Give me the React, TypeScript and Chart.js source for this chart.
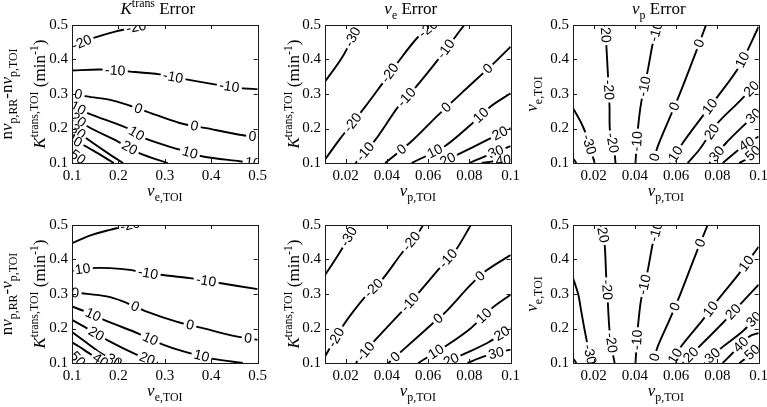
import { useEffect, useRef } from 'react';
import { Chart, registerables } from 'chart.js';
Chart.register(...registerables);

type Pt = [number, number];
type Contour = { level: number; line: Pt[]; labels: Pt[] };
type Seg = { t: string; it?: boolean; s?: 'sub' | 'sup' };

// ---------- tick values ----------
const veTicks = [0.1, 0.2, 0.3, 0.4, 0.5];
const vpTicks = [0.02, 0.04, 0.06, 0.08, 0.1];
const yTicks = [0.1, 0.2, 0.3, 0.4, 0.5];

// ---------- K^trans error, top row (x: ve,TOI ; y: Ktrans,TOI) ----------
const kTransTop: Contour[] = [
  { level: -20, line: [[0.1, 0.437], [0.143, 0.461], [0.193, 0.481], [0.235, 0.493], [0.265, 0.5]], labels: [[0.121, 0.449], [0.239, 0.49]] },
  { level: -10, line: [[0.1, 0.368], [0.161, 0.371], [0.225, 0.365], [0.289, 0.357], [0.343, 0.343], [0.411, 0.327], [0.464, 0.317], [0.5, 0.314]], labels: [[0.193, 0.368], [0.318, 0.35], [0.439, 0.321]] },
  { level: 0, line: [[0.1, 0.303], [0.132, 0.293], [0.182, 0.283], [0.225, 0.266], [0.261, 0.249], [0.332, 0.216], [0.389, 0.201], [0.461, 0.182], [0.5, 0.175]], labels: [[0.114, 0.3], [0.243, 0.258], [0.364, 0.208], [0.489, 0.177]] },
  { level: 10, line: [[0.1, 0.268], [0.135, 0.244], [0.221, 0.2], [0.256, 0.172], [0.328, 0.14], [0.382, 0.119], [0.461, 0.105], [0.49, 0.1]], labels: [[0.113, 0.259], [0.239, 0.186], [0.354, 0.129], [0.49, 0.102]] },
  { level: 20, line: [[0.1, 0.238], [0.135, 0.205], [0.199, 0.162], [0.246, 0.128], [0.306, 0.1]], labels: [[0.113, 0.224], [0.224, 0.143]] },
  { level: 30, line: [[0.1, 0.205], [0.131, 0.172], [0.178, 0.128], [0.21, 0.1]], labels: [[0.112, 0.19]] },
  { level: 40, line: [[0.1, 0.17], [0.146, 0.136], [0.19, 0.1]], labels: [[0.104, 0.163]] },
  { level: 50, line: [[0.1, 0.13], [0.115, 0.115], [0.13, 0.1]], labels: [[0.11, 0.112]] },
];

// ---------- K^trans error, bottom row ----------
const kTransBottom: Contour[] = [
  { level: -20, line: [[0.1, 0.447], [0.14, 0.47], [0.182, 0.486], [0.225, 0.5]], labels: [[0.229, 0.494]] },
  { level: -10, line: [[0.1, 0.368], [0.139, 0.375], [0.182, 0.375], [0.225, 0.37], [0.264, 0.36], [0.296, 0.355], [0.354, 0.346], [0.421, 0.331], [0.5, 0.314]], labels: [[0.118, 0.37], [0.264, 0.361], [0.389, 0.337]] },
  { level: 0, line: [[0.1, 0.304], [0.121, 0.302], [0.175, 0.293], [0.211, 0.278], [0.261, 0.249], [0.325, 0.22], [0.382, 0.201], [0.454, 0.177], [0.5, 0.167]], labels: [[0.107, 0.303], [0.236, 0.264], [0.354, 0.208], [0.479, 0.168]] },
  { level: 10, line: [[0.1, 0.264], [0.145, 0.24], [0.178, 0.22], [0.242, 0.186], [0.299, 0.152], [0.342, 0.133], [0.404, 0.112], [0.468, 0.1]], labels: [[0.145, 0.238], [0.268, 0.168], [0.379, 0.119]] },
  { level: 20, line: [[0.1, 0.225], [0.125, 0.206], [0.178, 0.165], [0.238, 0.125], [0.285, 0.1]], labels: [[0.152, 0.184], [0.262, 0.112]] },
  { level: 30, line: [[0.1, 0.19], [0.125, 0.165], [0.155, 0.135], [0.18, 0.115], [0.2, 0.1]], labels: [[0.19, 0.105]] },
  { level: 40, line: [[0.1, 0.16], [0.115, 0.148], [0.135, 0.13], [0.155, 0.113], [0.17, 0.1]], labels: [[0.16, 0.105]] },
  { level: 50, line: [[0.1, 0.125], [0.11, 0.115], [0.12, 0.1]], labels: [[0.108, 0.106]] },
];

// ---------- ve error, top row (x: vp,TOI ; y: Ktrans,TOI) ----------
const veTop: Contour[] = [
  { level: -30, line: [[0.01, 0.336], [0.0185, 0.408], [0.0264, 0.5]], labels: [[0.0235, 0.465]] },
  { level: -20, line: [[0.01, 0.11], [0.0169, 0.167], [0.0296, 0.264], [0.0368, 0.322], [0.0456, 0.394], [0.0552, 0.466], [0.0623, 0.5]], labels: [[0.0236, 0.216], [0.0416, 0.36], [0.06, 0.49]] },
  { level: -10, line: [[0.0248, 0.1], [0.0344, 0.167], [0.0456, 0.264], [0.0536, 0.317], [0.0647, 0.399], [0.0775, 0.5]], labels: [[0.0296, 0.132], [0.0496, 0.29], [0.0687, 0.43]] },
  { level: 0, line: [[0.0392, 0.1], [0.052, 0.163], [0.0647, 0.238], [0.0775, 0.31], [0.0927, 0.394], [0.1, 0.437]], labels: [[0.0472, 0.14], [0.0687, 0.262], [0.0887, 0.375]] },
  { level: 10, line: [[0.052, 0.1], [0.0679, 0.148], [0.0807, 0.211], [0.0903, 0.264], [0.1, 0.302]], labels: [[0.0631, 0.136], [0.0855, 0.239]] },
  { level: 20, line: [[0.066, 0.1], [0.0743, 0.124], [0.0887, 0.167], [0.1, 0.201]], labels: [[0.0694, 0.112], [0.0945, 0.19]] },
  { level: 30, line: [[0.0799, 0.1], [0.087, 0.118], [0.1, 0.149]], labels: [[0.0927, 0.135]] },
  { level: 40, line: [[0.086, 0.1], [0.092, 0.105], [0.1, 0.11]], labels: [[0.0965, 0.108]] },
];

// ---------- ve error, bottom row ----------
const veBottom: Contour[] = [
  { level: -30, line: [[0.01, 0.355], [0.0169, 0.418], [0.0248, 0.5]], labels: [[0.0216, 0.466]] },
  { level: -20, line: [[0.01, 0.119], [0.0185, 0.206], [0.0296, 0.293], [0.0376, 0.341], [0.0472, 0.418], [0.0551, 0.476], [0.0576, 0.5]], labels: [[0.0145, 0.177], [0.0336, 0.317], [0.052, 0.452]] },
  { level: -10, line: [[0.025, 0.1], [0.0344, 0.167], [0.0472, 0.249], [0.0552, 0.302], [0.0663, 0.38], [0.0735, 0.428], [0.0807, 0.5]], labels: [[0.0296, 0.134], [0.0512, 0.276], [0.0695, 0.404]] },
  { level: 0, line: [[0.0408, 0.1], [0.0488, 0.143], [0.0615, 0.211], [0.0687, 0.249], [0.0807, 0.327], [0.0887, 0.37], [0.1, 0.413]], labels: [[0.044, 0.119], [0.0647, 0.23], [0.0855, 0.35]] },
  { level: 10, line: [[0.0552, 0.1], [0.0695, 0.153], [0.0807, 0.201], [0.091, 0.259], [0.1, 0.298]], labels: [[0.064, 0.131], [0.0871, 0.237]] },
  { level: 20, line: [[0.0679, 0.1], [0.0767, 0.124], [0.0887, 0.158], [0.1, 0.201]], labels: [[0.0711, 0.11], [0.0958, 0.185]] },
  { level: 30, line: [[0.0791, 0.1], [0.0871, 0.119], [0.1, 0.139]], labels: [[0.093, 0.127]] },
];

// ---------- vp error, top row (x: vp,TOI ; y: ve,TOI) ----------
const vpTop: Contour[] = [
  { level: -40, line: [[0.01, 0.114], [0.0116, 0.1]], labels: [] },
  { level: -30, line: [[0.01, 0.259], [0.014, 0.216], [0.0165, 0.18], [0.0195, 0.12], [0.0205, 0.1]], labels: [[0.0173, 0.153]] },
  { level: -20, line: [[0.0255, 0.5], [0.0261, 0.447], [0.0269, 0.36], [0.0277, 0.264], [0.0279, 0.196], [0.0302, 0.124], [0.0306, 0.1]], labels: [[0.0258, 0.478], [0.0273, 0.312], [0.0288, 0.158]] },
  { level: -10, line: [[0.0511, 0.5], [0.0487, 0.447], [0.0463, 0.37], [0.043, 0.273], [0.0415, 0.201], [0.0406, 0.129], [0.0403, 0.1]], labels: [[0.0503, 0.481], [0.0447, 0.322], [0.0412, 0.163]] },
  { level: 0, line: [[0.0487, 0.1], [0.0511, 0.148], [0.0568, 0.23], [0.0616, 0.298], [0.0697, 0.423], [0.0745, 0.5]], labels: [[0.0495, 0.117], [0.0592, 0.264], [0.0713, 0.447]] },
  { level: 10, line: [[0.057, 0.1], [0.0632, 0.158], [0.0721, 0.23], [0.0802, 0.293], [0.0906, 0.38], [0.1, 0.495]], labels: [[0.0598, 0.126], [0.0761, 0.265], [0.0923, 0.399]] },
  { level: 20, line: [[0.0656, 0.1], [0.0713, 0.139], [0.0802, 0.216], [0.0906, 0.278], [0.1, 0.336]], labels: [[0.0775, 0.19], [0.0963, 0.317]] },
  { level: 30, line: [[0.0761, 0.1], [0.0842, 0.158], [0.0923, 0.206], [0.1, 0.249]], labels: [[0.0794, 0.128], [0.0975, 0.237]] },
  { level: 40, line: [[0.0826, 0.1], [0.0923, 0.148], [0.1, 0.177]], labels: [[0.094, 0.157]] },
  { level: 50, line: [[0.0906, 0.1], [0.0947, 0.114], [0.1, 0.143]], labels: [[0.0971, 0.13]] },
];

// ---------- vp error, bottom row ----------
const vpBottom: Contour[] = [
  { level: -40, line: [[0.01, 0.114], [0.0116, 0.1]], labels: [] },
  { level: -30, line: [[0.01, 0.346], [0.0125, 0.3], [0.014, 0.25], [0.0155, 0.2], [0.0175, 0.14], [0.019, 0.1]], labels: [[0.0181, 0.125]] },
  { level: -20, line: [[0.0237, 0.5], [0.0253, 0.447], [0.0261, 0.351], [0.0269, 0.273], [0.0277, 0.196], [0.0294, 0.124], [0.0302, 0.1]], labels: [[0.0243, 0.478], [0.0265, 0.312], [0.0283, 0.158]] },
  { level: -10, line: [[0.0511, 0.5], [0.0487, 0.447], [0.0463, 0.37], [0.043, 0.283], [0.0415, 0.206], [0.0406, 0.129], [0.0403, 0.1]], labels: [[0.0503, 0.481], [0.0447, 0.327], [0.0412, 0.167]] },
  { level: 0, line: [[0.0487, 0.1], [0.0511, 0.148], [0.0568, 0.225], [0.0616, 0.293], [0.0697, 0.418], [0.0753, 0.5]], labels: [[0.0495, 0.117], [0.0592, 0.264], [0.0721, 0.447]] },
  { level: 10, line: [[0.0576, 0.1], [0.0624, 0.148], [0.0729, 0.225], [0.0802, 0.283], [0.0906, 0.36], [0.1, 0.437]], labels: [[0.0595, 0.12], [0.0761, 0.259], [0.0939, 0.389]] },
  { level: 20, line: [[0.0632, 0.1], [0.0713, 0.148], [0.0826, 0.216], [0.0923, 0.278], [0.1, 0.327]], labels: [[0.0673, 0.123], [0.0874, 0.25]] },
  { level: 30, line: [[0.0737, 0.1], [0.0818, 0.143], [0.0923, 0.192], [0.1, 0.24]], labels: [[0.0775, 0.122], [0.0975, 0.228]] },
  { level: 40, line: [[0.0826, 0.1], [0.0866, 0.124], [0.0955, 0.177], [0.1, 0.187]], labels: [[0.0906, 0.158]] },
  { level: 50, line: [[0.0906, 0.1], [0.093, 0.11], [0.1, 0.148]], labels: [[0.0971, 0.13]] },
];

// ---------- texts ----------
const kTransTitle: Seg[] = [{ t: 'K', it: true }, { t: 'trans', s: 'sup' }, { t: ' Error' }];
const veTitle: Seg[] = [{ t: 'v', it: true }, { t: 'e', s: 'sub' }, { t: ' Error' }];
const vpTitle: Seg[] = [{ t: 'v', it: true }, { t: 'p', s: 'sub' }, { t: ' Error' }];
const veAxisLabel: Seg[] = [{ t: 'v', it: true }, { t: 'e,TOI', s: 'sub' }];
const vpAxisLabel: Seg[] = [{ t: 'v', it: true }, { t: 'p,TOI', s: 'sub' }];
const kTransAxisLabel: Seg[] = [{ t: 'K', it: true }, { t: 'trans,TOI', s: 'sup' }, { t: ' (min' }, { t: '-1', s: 'sup' }, { t: ')' }];
const topRowNote: Seg[] = [{ t: 'n' }, { t: 'v', it: true }, { t: 'p,RR', s: 'sub' }, { t: '-n' }, { t: 'v', it: true }, { t: 'p,TOI', s: 'sub' }];
const bottomRowNote: Seg[] = [{ t: 'n' }, { t: 'v', it: true }, { t: 'p,RR', s: 'sub' }, { t: '-' }, { t: 'v', it: true }, { t: 'p,TOI', s: 'sub' }];

// ---------- layout ----------
const SERIF = '"Liberation Serif", "Times New Roman", Times, serif';
const SANS = '"Liberation Sans", Arial, Helvetica, sans-serif';
const COL_LEFT = [72, 325, 573];
const ROW_TOP = [25, 225];
const PLOT_W = 187;
const PLOT_H = 138;
const PAD_L = 72;
const PAD_T = 25;
const PAD_R = 12;
const CANVAS_W = PAD_L + PLOT_W + PAD_R;
const CANVAS_H = 207;

type PanelDef = {
  col: number;
  row: number;
  contours: Contour[];
  xMin: number;
  xMax: number;
  xTicks: number[];
  title?: Seg[];
  xLabel: Seg[];
  yLabels: { segs: Seg[]; dx: number }[];
};

const PANELS: PanelDef[] = [
  { col: 0, row: 0, contours: kTransTop, xMin: 0.1, xMax: 0.5, xTicks: veTicks, title: kTransTitle, xLabel: veAxisLabel, yLabels: [{ segs: kTransAxisLabel, dx: -27 }, { segs: topRowNote, dx: -60 }] },
  { col: 1, row: 0, contours: veTop, xMin: 0.01, xMax: 0.1, xTicks: vpTicks, title: veTitle, xLabel: vpAxisLabel, yLabels: [{ segs: kTransAxisLabel, dx: -26 }] },
  { col: 2, row: 0, contours: vpTop, xMin: 0.01, xMax: 0.1, xTicks: vpTicks, title: vpTitle, xLabel: vpAxisLabel, yLabels: [{ segs: veAxisLabel, dx: -36 }] },
  { col: 0, row: 1, contours: kTransBottom, xMin: 0.1, xMax: 0.5, xTicks: veTicks, xLabel: veAxisLabel, yLabels: [{ segs: kTransAxisLabel, dx: -27 }, { segs: bottomRowNote, dx: -60 }] },
  { col: 1, row: 1, contours: veBottom, xMin: 0.01, xMax: 0.1, xTicks: vpTicks, xLabel: vpAxisLabel, yLabels: [{ segs: kTransAxisLabel, dx: -26 }] },
  { col: 2, row: 1, contours: vpBottom, xMin: 0.01, xMax: 0.1, xTicks: vpTicks, xLabel: vpAxisLabel, yLabels: [{ segs: veAxisLabel, dx: -36 }] },
];

const fontStr = (size: number, it?: boolean) => `${it ? 'italic ' : ''}${size}px ${SERIF}`;

function drawRich(ctx: CanvasRenderingContext2D, segs: Seg[], size: number, x: number, y: number, rotate: boolean) {
  const small = size * 0.7;
  const parts = segs.map((sg) => {
    const sz = sg.s ? small : size;
    ctx.font = fontStr(sz, sg.it);
    return { sg, sz, w: ctx.measureText(sg.t).width };
  });
  const total = parts.reduce((a, p) => a + p.w, 0);
  ctx.save();
  ctx.translate(x, y);
  if (rotate) ctx.rotate(-Math.PI / 2);
  ctx.fillStyle = '#000';
  ctx.textAlign = 'left';
  ctx.textBaseline = 'alphabetic';
  let cx = -total / 2;
  for (const p of parts) {
    ctx.font = fontStr(p.sz, p.sg.it);
    const dy = p.sg.s === 'sub' ? size * 0.3 : p.sg.s === 'sup' ? -size * 0.42 : 0;
    ctx.fillText(p.sg.t, cx, dy);
    cx += p.w;
  }
  ctx.restore();
}

function makeDecor(p: PanelDef) {
  return {
    id: 'decor' + p.col + p.row,
    afterDatasetsDraw(chart: any) {
      const { ctx, chartArea: a, scales } = chart;
      const xs = scales.x;
      const ys = scales.y;
      // contour labels
      ctx.save();
      ctx.beginPath();
      ctx.rect(a.left, a.top, a.right - a.left, a.bottom - a.top);
      ctx.clip();
      ctx.font = `14px ${SANS}`;
      for (const c of p.contours) {
        const pts = c.line.map(([x, y]) => [xs.getPixelForValue(x), ys.getPixelForValue(y)]);
        for (const lp of c.labels) {
          const px = xs.getPixelForValue(lp[0]);
          const py = ys.getPixelForValue(lp[1]);
          let best = { d: Infinity, x: px, y: py, ang: 0 };
          for (let i = 0; i < pts.length - 1; i++) {
            const [ax, ay] = pts[i];
            const [bx, by] = pts[i + 1];
            const vx = bx - ax;
            const vy = by - ay;
            const L = vx * vx + vy * vy || 1;
            let t = ((px - ax) * vx + (py - ay) * vy) / L;
            t = Math.max(0, Math.min(1, t));
            const qx = ax + t * vx;
            const qy = ay + t * vy;
            const d = Math.hypot(px - qx, py - qy);
            if (d < best.d) best = { d, x: qx, y: qy, ang: Math.atan2(vy, vx) };
          }
          let ang = best.ang;
          if (ang > Math.PI / 2) ang -= Math.PI;
          if (ang < -Math.PI / 2) ang += Math.PI;
          const txt = String(c.level);
          const w = ctx.measureText(txt).width;
          ctx.save();
          ctx.translate(best.x, best.y);
          ctx.rotate(ang);
          ctx.fillStyle = '#fff';
          ctx.fillRect(-w / 2 - 2.5, -6, w + 5, 12);
          ctx.fillStyle = '#000';
          ctx.textAlign = 'center';
          ctx.textBaseline = 'middle';
          ctx.fillText(txt, 0, 0.5);
          ctx.restore();
        }
      }
      ctx.restore();

      // axes box and inward ticks
      ctx.save();
      ctx.strokeStyle = '#1a1a1a';
      ctx.lineWidth = 1;
      ctx.strokeRect(Math.round(a.left) + 0.5, Math.round(a.top) + 0.5, Math.round(a.right - a.left), Math.round(a.bottom - a.top));
      ctx.beginPath();
      const TL = 4;
      for (const t of xs.ticks) {
        const x = Math.round(xs.getPixelForValue(t.value)) + 0.5;
        ctx.moveTo(x, a.bottom);
        ctx.lineTo(x, a.bottom - TL);
        ctx.moveTo(x, a.top);
        ctx.lineTo(x, a.top + TL);
      }
      for (const t of ys.ticks) {
        const y = Math.round(ys.getPixelForValue(t.value)) + 0.5;
        ctx.moveTo(a.left, y);
        ctx.lineTo(a.left + TL, y);
        ctx.moveTo(a.right, y);
        ctx.lineTo(a.right - TL, y);
      }
      ctx.stroke();
      ctx.restore();

      // texts
      const cx = (a.left + a.right) / 2;
      const cy = (a.top + a.bottom) / 2;
      if (p.title) drawRich(ctx, p.title, 17, cx - 7, a.top - 11, false);
      drawRich(ctx, p.xLabel, 17, cx, a.bottom + 33, false);
      for (const yl of p.yLabels) drawRich(ctx, yl.segs, 17, a.left + yl.dx, cy, true);
    },
  };
}

const fmt = (v: number) => String(Math.round(v * 100) / 100);

function Panel({ p }: { p: PanelDef }) {
  const ref = useRef<HTMLCanvasElement>(null);
  useEffect(() => {
    const canvas = ref.current;
    if (!canvas) return;
    const tickFont = { family: SERIF, size: 15 };
    const chart = new Chart(canvas, {
      type: 'scatter',
      data: {
        datasets: p.contours.map((c) => ({
          label: String(c.level),
          data: c.line.map(([x, y]) => ({ x, y })),
          showLine: true,
          borderColor: '#000',
          backgroundColor: '#000',
          borderWidth: 1.9,
          pointRadius: 0,
          tension: 0.3,
          fill: false,
        })),
      },
      options: {
        responsive: false,
        animation: false,
        devicePixelRatio: 1,
        events: [],
        layout: { padding: { left: 0, top: PAD_T, right: PAD_R, bottom: 0 } },
        plugins: { legend: { display: false }, tooltip: { enabled: false }, title: { display: false } },
        scales: {
          x: {
            type: 'linear',
            min: p.xMin,
            max: p.xMax,
            afterBuildTicks: (s: any) => {
              s.ticks = p.xTicks.map((v) => ({ value: v }));
            },
            afterFit: (s: any) => {
              s.height = CANVAS_H - PAD_T - PLOT_H;
            },
            grid: { display: false, drawTicks: false },
            border: { display: false },
            ticks: { callback: (v: any) => fmt(Number(v)), font: tickFont, color: '#000', padding: 4, maxRotation: 0, autoSkip: false },
          },
          y: {
            type: 'linear',
            min: 0.1,
            max: 0.5,
            afterBuildTicks: (s: any) => {
              s.ticks = yTicks.map((v) => ({ value: v }));
            },
            afterFit: (s: any) => {
              s.width = PAD_L;
            },
            grid: { display: false, drawTicks: false },
            border: { display: false },
            ticks: { callback: (v: any) => fmt(Number(v)), font: tickFont, color: '#000', padding: 4, autoSkip: false },
          },
        },
      },
      plugins: [makeDecor(p)],
    } as any);
    return () => chart.destroy();
  }, [p]);
  return (
    <canvas
      ref={ref}
      width={CANVAS_W}
      height={CANVAS_H}
      style={{ position: 'absolute', left: COL_LEFT[p.col] - PAD_L, top: ROW_TOP[p.row] - PAD_T, width: CANVAS_W, height: CANVAS_H }}
    />
  );
}

export default function App() {
  return (
    <div style={{ position: 'absolute', left: 0, top: 0, width: 767, height: 407, overflow: 'hidden', background: '#fff' }}>
      {PANELS.map((p, i) => (
        <Panel key={i} p={p} />
      ))}
    </div>
  );
}
